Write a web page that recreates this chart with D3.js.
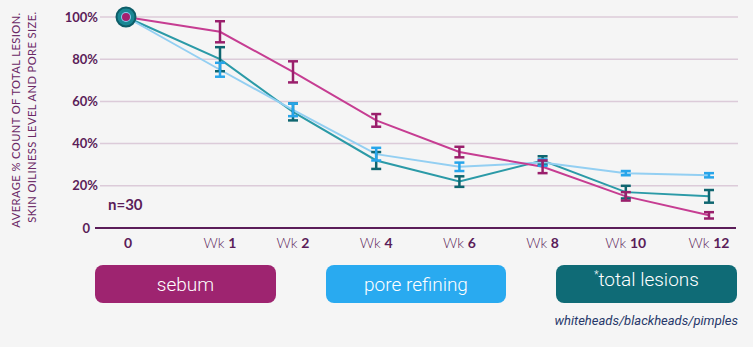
<!DOCTYPE html>
<html>
<head>
<meta charset="utf-8">
<script src="https://cdn.jsdelivr.net/npm/d3@7"></script>
<style>
  body { margin: 0; background: #f5f5f5; }
  svg { display: block; }
</style>
</head>
<body>
<div id="chart"></div>
<script>
// chart data
const categories = ["0", "Wk 1", "Wk 2", "Wk 4", "Wk 6", "Wk 8", "Wk 10", "Wk 12"];
const sebum = [100, 93, 74, 51, 36, 29, 15, 6];
const sebumErr = [0, 5, 5, 3, 2.5, 3, 2, 1.5];
const pore = [100, 75, 56, 35, 29, 31, 26, 25];
const poreErr = [0, 3.3, 3, 3, 2, 1.5, 1, 1];
const lesions = [100, 80, 55, 32, 22, 32, 17, 15];
const lesionsErr = [0, 5.7, 4, 4, 2.5, 2, 3, 3];
const yTicks = [0, 20, 40, 60, 80, 100];

const width = 753;
const height = 347;

const svg = d3.select("#chart")
  .append("svg")
  .attr("width", width)
  .attr("height", height);

svg.append("rect")
  .attr("width", width)
  .attr("height", height)
  .attr("fill", "#f5f5f5");

// x: the first step is wider than the rest in the original
const xIdx = d3.scaleLinear()
  .domain([0, 1, 2, 7])
  .range([126, 220, 293, 709]);
const x = (i) => xIdx(i);

const y = d3.scaleLinear()
  .domain([0, 100])
  .range([228, 17]);

const purple = "#5b1d59";
const font = "Lato, 'Open Sans', sans-serif";

// grid lines
svg.append("g")
  .selectAll("line")
  .data(yTicks.filter(d => d > 0))
  .join("line")
  .attr("x1", 100)
  .attr("x2", 738)
  .attr("y1", d => y(d))
  .attr("y2", d => y(d))
  .attr("stroke", "#dccbd9")
  .attr("stroke-width", 1.5);

// zero line
svg.append("line")
  .attr("x1", 95)
  .attr("x2", 736)
  .attr("y1", y(0))
  .attr("y2", y(0))
  .attr("stroke", purple)
  .attr("stroke-width", 2);

// y tick labels
svg.append("g")
  .selectAll("text")
  .data(yTicks)
  .join("text")
  .attr("x", d => d === 0 ? 90 : 98)
  .attr("y", d => y(d))
  .attr("dy", "0.36em")
  .attr("text-anchor", "end")
  .attr("font-family", font)
  .attr("font-weight", 700)
  .attr("font-size", 13)
  .attr("fill", purple)
  .text(d => d === 0 ? "0" : d + "%");

// x tick labels: "Wk" regular, number bold
const xl = svg.append("g")
  .selectAll("text")
  .data(categories)
  .join("text")
  .attr("x", (d, i) => x(i) + (i === 0 ? 2 : 0))
  .attr("y", 243)
  .attr("dy", "0.36em")
  .attr("text-anchor", "middle")
  .attr("font-family", font)
  .attr("font-size", 14)
  .attr("fill", purple);
xl.each(function(d) {
  const t = d3.select(this);
  const parts = d.split(" ");
  if (parts.length === 1) {
    t.append("tspan").attr("font-weight", 700).text(parts[0]);
  } else {
    t.append("tspan").attr("font-weight", 300).text(parts[0] + " ");
    t.append("tspan").attr("font-weight", 700).text(parts[1]);
  }
});

// y axis title, two lines
const titleLines = ["AVERAGE % COUNT OF TOTAL LESION.", "SKIN OILINESS LEVEL AND PORE SIZE."];
svg.append("g")
  .selectAll("text")
  .data(titleLines)
  .join("text")
  .attr("transform", (d, i) => `translate(${20 + i * 16},${120 - i * 3}) rotate(-90)`)
  .attr("text-anchor", "middle")
  .attr("font-family", font)
  .attr("font-size", 11.2)
  .attr("letter-spacing", 0.4)
  .attr("fill", "#6b2866")
  .text(d => d);

// n=30
svg.append("text")
  .attr("x", 108)
  .attr("y", 205)
  .attr("dy", "0.36em")
  .attr("font-family", font)
  .attr("font-weight", 700)
  .attr("font-size", 15)
  .attr("fill", purple)
  .text("n=30");

// series
const series = [
  {name: "total lesions", values: lesions, err: lesionsErr, line: "#2b9aa7", bar: "#0f6670"},
  {name: "pore refining", values: pore, err: poreErr, line: "#93cff2", bar: "#27a5ea"},
  {name: "sebum", values: sebum, err: sebumErr, line: "#c63d92", bar: "#9a1f6c"}
];

const line = d3.line()
  .x((d, i) => x(i))
  .y(d => y(d));

svg.append("g")
  .selectAll("path")
  .data(series)
  .join("path")
  .attr("d", s => line(s.values))
  .attr("fill", "none")
  .attr("stroke", s => s.line)
  .attr("stroke-width", 2);

// error bars (skip the 0 point)
series.forEach(s => {
  const g = svg.append("g")
    .attr("stroke", s.bar)
    .attr("stroke-width", 2.5);
  const pts = s.values.map((v, i) => ({i, v, e: s.err[i]})).filter(p => p.e > 0);
  g.selectAll(".v").data(pts).join("line")
    .attr("x1", p => x(p.i)).attr("x2", p => x(p.i))
    .attr("y1", p => y(p.v + p.e)).attr("y2", p => y(p.v - p.e));
  g.selectAll(".t").data(pts).join("line")
    .attr("x1", p => x(p.i) - 5).attr("x2", p => x(p.i) + 5)
    .attr("y1", p => y(p.v + p.e)).attr("y2", p => y(p.v + p.e));
  g.selectAll(".b").data(pts).join("line")
    .attr("x1", p => x(p.i) - 5).attr("x2", p => x(p.i) + 5)
    .attr("y1", p => y(p.v - p.e)).attr("y2", p => y(p.v - p.e));
});

// starting marker at 100%
svg.append("circle")
  .attr("cx", x(0)).attr("cy", y(100)).attr("r", 9.5)
  .attr("fill", "#1a8794").attr("stroke", "#0d5d68").attr("stroke-width", 2);
svg.append("circle")
  .attr("cx", x(0)).attr("cy", y(100)).attr("r", 5)
  .attr("fill", "#8ccbf0");
svg.append("circle")
  .attr("cx", x(0)).attr("cy", y(100)).attr("r", 4)
  .attr("fill", "#a3206f");

// legend buttons
const legend = [
  {label: "sebum", color: "#9e2470", x0: 95, x1: 276},
  {label: "pore refining", color: "#29aaf0", x0: 326, x1: 506},
  {label: "total lesions", color: "#0f6b76", x0: 556, x1: 737}
];

const lg = svg.append("g")
  .selectAll("g")
  .data(legend)
  .join("g");

lg.append("rect")
  .attr("x", d => d.x0)
  .attr("y", 265)
  .attr("width", d => d.x1 - d.x0)
  .attr("height", 38)
  .attr("rx", 8)
  .attr("fill", d => d.color);

const lt = lg.append("text")
  .attr("x", d => (d.x0 + d.x1) / 2)
  .attr("y", 284)
  .attr("dy", "0.36em")
  .attr("text-anchor", "middle")
  .attr("font-family", "Roboto, 'Open Sans', sans-serif")
  .attr("font-weight", 300)
  .attr("font-size", 19)
  .attr("fill", "#ffffff");
lt.each(function(d) {
  const t = d3.select(this);
  if (d.label === "total lesions") {
    t.append("tspan").attr("font-size", 10).attr("dy", "-0.6em").text("*");
    t.append("tspan").attr("dy", "0.4em").text(d.label);
  } else {
    t.text(d.label);
  }
});

svg.append("text")
  .attr("x", 738)
  .attr("y", 320)
  .attr("dy", "0.36em")
  .attr("text-anchor", "end")
  .attr("font-family", "Roboto, 'Open Sans', sans-serif")
  .attr("font-style", "italic")
  .attr("font-size", 13)
  .attr("fill", "#27386a")
  .text("whiteheads/blackheads/pimples");
</script>
</body>
</html>
